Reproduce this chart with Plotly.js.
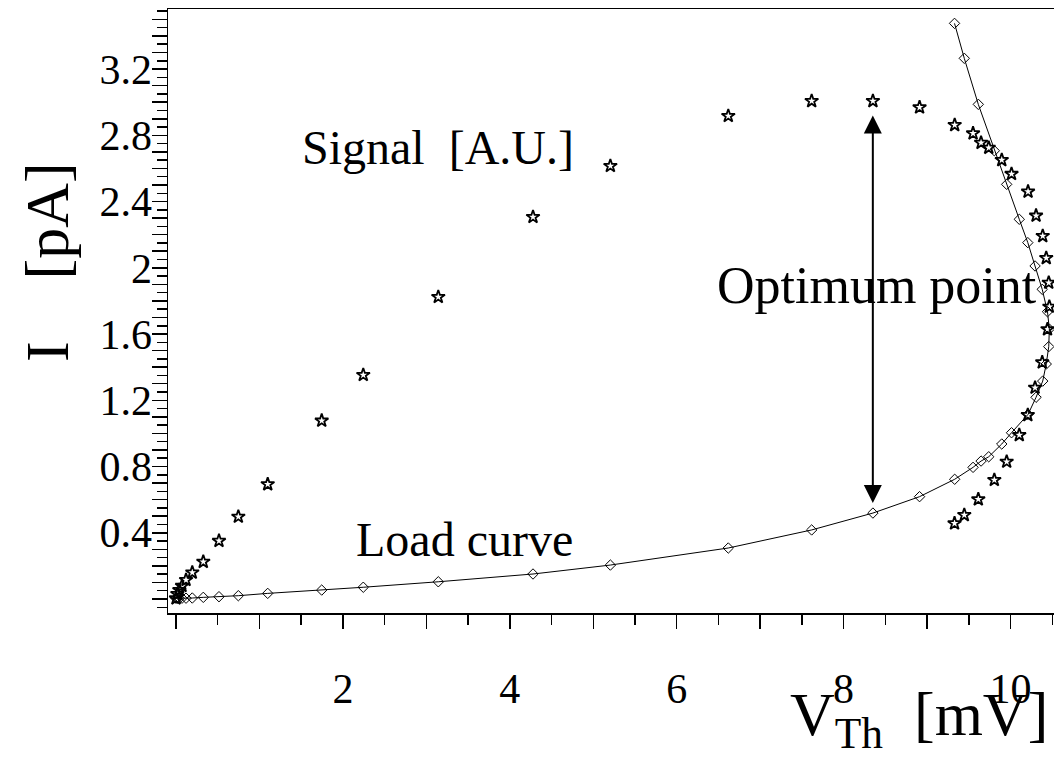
<!DOCTYPE html>
<html>
<head>
<meta charset="utf-8">
<script src="https://cdn.plot.ly/plotly-3.0.1.min.js"></script>
<style>html,body{margin:0;padding:0;background:#fff}#chart{width:1054px;height:758px}</style>
</head>
<body>
<div id="chart"></div>
<script>
// Thevenin voltage V_Th [mV] for each measured point
const vTh = [0.000, 0.016, 0.040, 0.072, 0.120, 0.195, 0.327, 0.515, 0.747, 1.099,
  1.746, 2.244, 3.143, 4.278, 5.205, 6.618, 7.617, 8.351, 8.910, 9.331,
  9.551, 9.647, 9.739, 9.895, 10.012, 10.210, 10.306, 10.386, 10.428, 10.458,
  10.465, 10.443, 10.380, 10.294, 10.207, 10.105, 9.954, 9.806, 9.614, 9.446, 9.329];
// Load curve current I [pA]
const loadI = [0.004, 0.004, 0.004, 0.005, 0.005, 0.006, 0.010, 0.014, 0.020, 0.034,
  0.054, 0.071, 0.104, 0.151, 0.205, 0.308, 0.417, 0.519, 0.618, 0.723,
  0.795, 0.833, 0.859, 0.936, 1.004, 1.115, 1.218, 1.316, 1.419, 1.524,
  1.630, 1.735, 1.870, 2.011, 2.152, 2.293, 2.504, 2.707, 2.987, 3.265, 3.476];
// Signal [A.U.]
const signal = [0.004, 0.030, 0.054, 0.079, 0.115, 0.160, 0.225, 0.351, 0.497, 0.693,
  1.077, 1.353, 1.824, 2.307, 2.615, 2.917, 3.007, 3.007, 2.969, 2.862,
  2.812, 2.755, 2.725, 2.651, 2.567, 2.460, 2.315, 2.192, 2.059, 1.910,
  1.765, 1.629, 1.429, 1.276, 1.111, 0.990, 0.829, 0.719, 0.602, 0.507, 0.457];

const xTickVals = [0,1,2,3,4,5,6,7,8,9,10];
const xTickText = ['','','2','','4','','6','','8','','10'];
const yTickVals = [0,0.1,0.2,0.3,0.4,0.5,0.6,0.7,0.8,0.9,1.0,1.1,1.2,1.3,1.4,1.5,1.6,1.7,1.8,1.9,2.0,2.1,2.2,2.3,2.4,2.5,2.6,2.7,2.8,2.9,3.0,3.1,3.2,3.3,3.4,3.5];
const yTickText = ['','','','','0.4','','','','0.8','','','','1.2','','','','1.6','','','','2','','','','2.4','','','','2.8','','','','3.2','','',''];

// Optimum point arrow (V, I_top, I_bottom)
const optV = 8.35, optTop = 2.92, optBottom = 0.57;

const FONT = 'Liberation Serif, Times New Roman, serif';
const NB = '\u00A0';

const traces = [
  {
    x: vTh, y: loadI, type: 'scatter', mode: 'lines+markers', name: 'Load curve',
    line: {color: '#000', width: 1},
    marker: {symbol: 'diamond-open', size: 8, color: '#000', line: {color: '#000', width: 1}}
  },
  {
    x: vTh, y: signal, type: 'scatter', mode: 'markers', name: 'Signal',
    marker: {symbol: 'star-open', size: 10, color: '#000', line: {color: '#000', width: 1.8}}
  }
];

const layout = {
  width: 1054, height: 758,
  margin: {l: 168, r: 0, t: 9, b: 145},
  paper_bgcolor: '#fff', plot_bgcolor: '#fff',
  showlegend: false,
  font: {family: FONT, color: '#000'},
  xaxis: {
    range: [-0.0959, 10.521],
    showgrid: false, zeroline: false,
    showline: true, linecolor: '#000', linewidth: 1.5, mirror: true,
    ticks: 'outside', ticklen: 14, tickwidth: 1.5, tickcolor: '#000',
    tickmode: 'array', tickvals: xTickVals, ticktext: xTickText,
    ticklabelstandoff: 24,
    tickfont: {family: FONT, size: 42, color: '#000'},
    minor: {ticks: 'outside', ticklen: 10, tickwidth: 1.5, tickcolor: '#000', dtick: 0.5, tick0: 0, showgrid: false}
  },
  yaxis: {
    range: [-0.0845, 3.5628],
    showgrid: false, zeroline: false,
    showline: true, linecolor: '#000', linewidth: 1.5,
    ticks: 'outside', ticklen: 15, tickwidth: 1.5, tickcolor: '#000',
    tickmode: 'array', tickvals: yTickVals, ticktext: yTickText,
    ticklabelstandoff: -9,
    tickfont: {family: FONT, size: 42, color: '#000'},
    minor: {ticks: 'outside', ticklen: 10, tickwidth: 1.5, tickcolor: '#000', dtick: 0.05, tick0: 0, showgrid: false}
  },
  annotations: [
    {xref: 'paper', yref: 'paper', x: -0.1366, y: 0.581, text: 'I' + NB + NB + NB + NB + '[pA]', textangle: -90,
     showarrow: false, xanchor: 'center', yanchor: 'middle', font: {family: FONT, size: 62, color: '#000'}},
    {xref: 'paper', yref: 'paper', x: 0.9955, y: -0.175, text: 'V<sub>Th</sub>' + NB + NB + '[mV]',
     showarrow: false, xanchor: 'right', yanchor: 'middle', font: {family: FONT, size: 62, color: '#000'}},
    {xref: 'paper', yref: 'paper', x: 0.3047, y: 0.770, text: 'Signal' + NB + NB + '[A.U.]',
     showarrow: false, xanchor: 'center', yanchor: 'middle', font: {family: FONT, size: 48, color: '#000'}},
    {xref: 'paper', yref: 'paper', x: 0.800, y: 0.543, text: 'Optimum point',
     showarrow: false, xanchor: 'center', yanchor: 'middle', font: {family: FONT, size: 52, color: '#000'}},
    {xref: 'paper', yref: 'paper', x: 0.335, y: 0.121, text: 'Load curve',
     showarrow: false, xanchor: 'center', yanchor: 'middle', font: {family: FONT, size: 48, color: '#000'}},
    {xref: 'x', yref: 'y', axref: 'x', ayref: 'y', x: optV, y: optTop, ax: optV, ay: optBottom,
     text: '', showarrow: true, arrowhead: 2, startarrowhead: 2, arrowside: 'end+start',
     arrowsize: 1.8, arrowwidth: 2, arrowcolor: '#000', standoff: 0, startstandoff: 0}
  ]
};

Plotly.newPlot('chart', traces, layout, {displayModeBar: false, staticPlot: true});
</script>
</body>
</html>
